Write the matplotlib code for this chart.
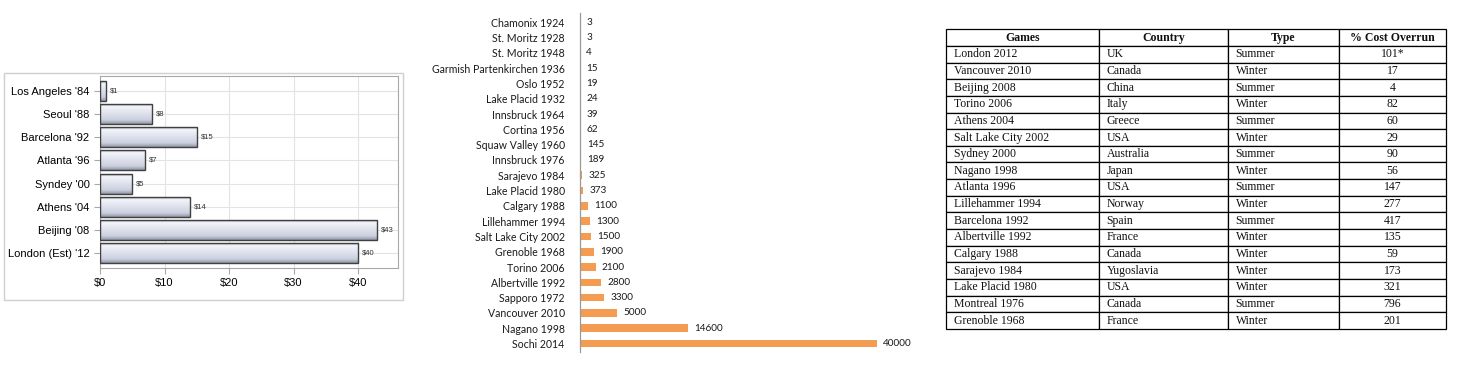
import matplotlib
matplotlib.use('Agg')
from matplotlib import pyplot as plt
from matplotlib.colors import LinearSegmentedColormap
from matplotlib.patches import Rectangle
import numpy as np

# panel 1 - summer games cost ($ billions)
summer_games = ["Los Angeles '84", "Seoul '88", "Barcelona '92", "Atlanta '96",
                "Syndey '00", "Athens '04", "Beijing '08", "London (Est) '12"]
summer_cost = [1, 8, 15, 7, 5, 14, 43, 40]

# panel 2 - winter games cost
winter_games = ['Chamonix 1924', 'St. Moritz 1928', 'St. Moritz 1948',
                'Garmish Partenkirchen 1936', 'Oslo 1952', 'Lake Placid 1932',
                'Innsbruck 1964', 'Cortina 1956', 'Squaw Valley 1960',
                'Innsbruck 1976', 'Sarajevo 1984', 'Lake Placid 1980',
                'Calgary 1988', 'Lillehammer 1994', 'Salt Lake City 2002',
                'Grenoble 1968', 'Torino 2006', 'Albertville 1992',
                'Sapporo 1972', 'Vancouver 2010', 'Nagano 1998', 'Sochi 2014']
winter_cost = [3, 3, 4, 15, 19, 24, 39, 62, 145, 189, 325, 373, 1100, 1300,
               1500, 1900, 2100, 2800, 3300, 5000, 14600, 40000]

# panel 3 - table
tbl_header = ['Games', 'Country', 'Type', '% Cost Overrun']
tbl_games = ['London 2012', 'Vancouver 2010', 'Beijing 2008', 'Torino 2006',
             'Athens 2004', 'Salt Lake City 2002', 'Sydney 2000', 'Nagano 1998',
             'Atlanta 1996', 'Lillehammer 1994', 'Barcelona 1992',
             'Albertville 1992', 'Calgary 1988', 'Sarajevo 1984',
             'Lake Placid 1980', 'Montreal 1976', 'Grenoble 1968']
tbl_country = ['UK', 'Canada', 'China', 'Italy', 'Greece', 'USA', 'Australia',
               'Japan', 'USA', 'Norway', 'Spain', 'France', 'Canada',
               'Yugoslavia', 'USA', 'Canada', 'France']
tbl_type = ['Summer', 'Winter', 'Summer', 'Winter', 'Summer', 'Winter',
            'Summer', 'Winter', 'Summer', 'Winter', 'Summer', 'Winter',
            'Winter', 'Winter', 'Winter', 'Summer', 'Winter']
tbl_overrun = ['101*', '17', '4', '82', '60', '29', '90', '56', '147', '277',
               '417', '135', '59', '173', '321', '796', '201']

W, H = 1474, 369
fig = plt.figure(figsize=(W / 100, H / 100), dpi=100)
fig.patch.set_facecolor('white')

def fx(px):
    return px / W

def fy(py):
    return 1 - py / H

# ---------------- panel 1 ----------------
fig.patches.append(Rectangle((fx(4), fy(300)), fx(399), 227 / H, transform=fig.transFigure,
                             fill=False, edgecolor='#cfcfcf', linewidth=1))
ax1 = fig.add_axes([fx(100), fy(268), fx(298), (268 - 76) / H])
y1 = np.arange(len(summer_games))
bars = ax1.barh(y1, summer_cost, height=0.86, color='none', edgecolor='#404040',
                linewidth=1.0, zorder=3)
shade = LinearSegmentedColormap.from_list('shade', [
    (0.0, '#a4aaba'), (0.12, '#f4f5fa'), (0.45, '#e0e3ed'),
    (0.8, '#ccd0de'), (1.0, '#9096a8')])
grad = np.linspace(0, 1, 64).reshape(-1, 1)
for b in bars:
    x0, yb = b.get_x(), b.get_y()
    im = ax1.imshow(grad, extent=(x0, x0 + b.get_width(), yb + b.get_height(), yb),
                    aspect='auto', cmap=shade, zorder=2, origin='upper')
    im.set_clip_path(b)
for yi, v in zip(y1, summer_cost):
    ax1.text(v + 0.6, yi, f'${v}', va='center', ha='left', fontsize=5.5,
             color='#333333', family='Liberation Sans')
ax1.set_xlim(0, 46.2)
ax1.set_ylim(7.65, -0.65)
ax1.set_yticks(y1)
ax1.set_yticklabels(summer_games, family='Liberation Sans', fontsize=8)
ax1.set_xticks([0, 10, 20, 30, 40])
ax1.set_xticklabels(['$0', '$10', '$20', '$30', '$40'], family='Liberation Sans', fontsize=8)
ax1.grid(True, color='#e3e3e3', linewidth=0.8, zorder=0)
ax1.set_axisbelow(True)
for s in ax1.spines.values():
    s.set_color('#a8a8a8')
ax1.tick_params(length=4, color='#a8a8a8', width=0.8)

# ---------------- panel 2 ----------------
ax2 = fig.add_axes([fx(580), fy(352), fx(340), (352 - 13) / H])
y2 = np.arange(len(winter_games))
ax2.barh(y2, winter_cost, height=0.5, color='#f39c52', zorder=2)
for yi, v in zip(y2, winter_cost):
    ax2.text(v + 850, yi, str(v), va='center', ha='left', fontsize=7.2,
             color='#1a1a1a', family='Lato')
ax2.set_xlim(0, 45800)
ax2.set_ylim(len(winter_games) - 0.45, -0.6)
ax2.set_yticks(y2)
ax2.set_yticklabels(winter_games, family='Lato', fontsize=7.6, color='#1a1a1a')
ax2.set_xticks([])
ax2.tick_params(axis='y', length=0, pad=11)
for side in ['top', 'right', 'bottom']:
    ax2.spines[side].set_visible(False)
ax2.spines['left'].set_color('#9a9a9a')
ax2.spines['left'].set_linewidth(0.9)

# ---------------- panel 3 ----------------
ax3 = fig.add_axes([fx(946), fy(329), fx(500), (329 - 29.3) / H])
ax3.axis('off')
rows = [list(r) for r in zip(tbl_games, tbl_country, tbl_type, tbl_overrun)]
col_px = [153, 129, 111, 107]
tbl = ax3.table(cellText=rows, colLabels=tbl_header, cellLoc='left',
                colWidths=[c / sum(col_px) for c in col_px], bbox=[0, 0, 1, 1])
tbl.auto_set_font_size(False)
for (r, c), cell in tbl.get_celld().items():
    cell.set_edgecolor('black')
    cell.set_linewidth(0.9)
    cell.PAD = 7.5 / col_px[c]
    txt = cell.get_text()
    txt.set_fontfamily('Liberation Serif')
    txt.set_fontsize(8.5)
    txt.set_color('#111111')
    if r == 0:
        txt.set_fontweight('bold')
        txt.set_horizontalalignment('center')
    elif c == 3:
        txt.set_horizontalalignment('center')

plt.savefig('out.png', dpi=100)
